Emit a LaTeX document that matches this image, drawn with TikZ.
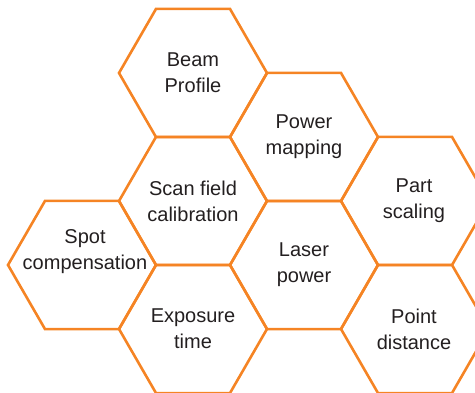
\documentclass[tikz,border=0pt]{standalone}
\usepackage{fontspec}
\setmainfont{Liberation Sans}
\usetikzlibrary{shapes.geometric}
\definecolor{hexorange}{RGB}{245,132,36}
\definecolor{txtgray}{RGB}{35,31,32}
\begin{document}
\begin{tikzpicture}[x=1pt,y=-1pt,
  hexa/.style={regular polygon, regular polygon sides=6, minimum size=148pt, inner sep=0pt, outer sep=0pt, draw=hexorange, line width=2.6pt},
  lbl/.style={align=center, text=txtgray, font=\fontsize{20}{26}\selectfont, inner sep=0pt}]
\useasboundingbox (0,0) rectangle (475,393);
\clip (0,0) rectangle (475,393);
\node[hexa] (hbeam) at (193,73) {};
\node[hexa] (hscan) at (193,201) {};
\node[hexa] (hexpo) at (193,329) {};
\node[hexa] (hpower) at (304,137) {};
\node[hexa] (hlaser) at (304,265) {};
\node[hexa] (hpart) at (415,201) {};
\node[hexa] (hpoint) at (415,329) {};
\node[hexa] (hspot) at (82,265) {};
\node[lbl] (tbeam) at (hbeam) {Beam\\Profile};
\node[lbl] (tscan) at (hscan) {Scan field\\calibration};
\node[lbl] (texpo) at (hexpo) {Exposure\\time};
\node[lbl] (tpower) at (hpower) {Power\\mapping};
\node[lbl] (tlaser) at (hlaser) {Laser\\power};
\node[lbl] (tpart) at ([xshift=-1pt]hpart.center) {Part\\scaling};
\node[lbl] (tpoint) at ([xshift=-1pt]hpoint.center) {Point\\distance};
\node[lbl] (tspot) at ([shift={(3,-13)}]hspot.center) {Spot\\compensation};
\end{tikzpicture}
\end{document}
